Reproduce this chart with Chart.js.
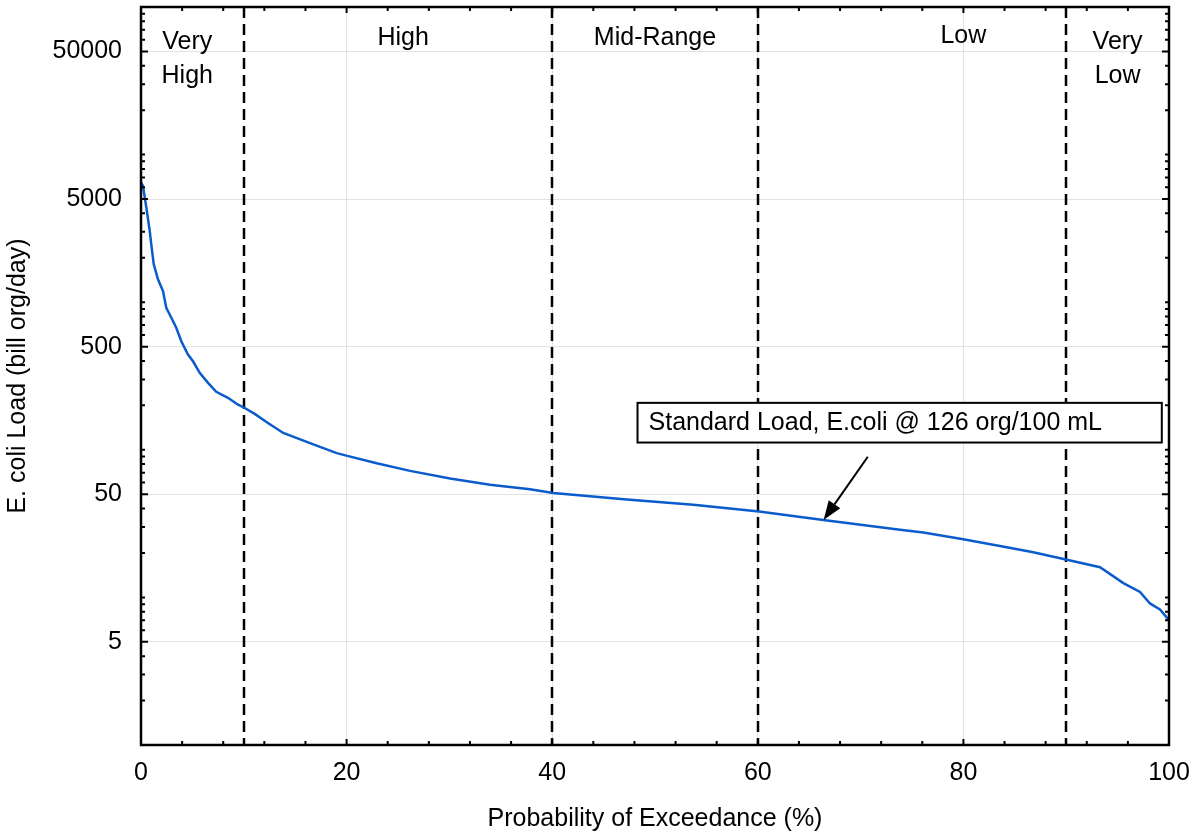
<!DOCTYPE html>
<html>
<head>
<meta charset="utf-8">
<script src="https://cdn.jsdelivr.net/npm/chart.js@4/dist/chart.umd.min.js"></script>
<style>
  html, body { margin: 0; padding: 0; background: #fff; }
  #wrap { width: 1194px; height: 834px; }
</style>
</head>
<body>
<div id="wrap"><canvas id="ldc" width="1194" height="834"></canvas></div>
<script>
// Load duration curve - E. coli

// curva de carga
const exceedPct = [0, 0.19, 0.52, 0.85, 1.0, 1.24, 1.65, 2.14, 2.46, 2.95, 3.43, 3.92, 4.57, 5.06, 5.71,
  6.52, 7.32, 8.46, 9.44, 10.09, 11.06, 12.35, 13.84, 16.44, 19.04, 20.07, 22.93, 26.17, 30.06, 33.95,
  37.84, 40.1, 47.25, 53.73, 60.12, 66.37, 73.83, 76.1, 79.99, 83.56, 86.8, 90.18, 93.29, 95.56, 97.18,
  98.15, 99.12, 100];
const ecoliLoad = [6500, 6135, 4375, 3035, 2466, 1805, 1428, 1189, 917, 785, 671, 544, 442, 398, 332,
  284, 247, 225, 202, 192, 175, 152, 130, 111, 95, 91, 81, 72, 64, 58,
  54, 51, 46, 42.4, 38.2, 33.5, 28.7, 27.5, 24.8, 22.3, 20.2, 17.9, 16.0, 12.5, 10.9,
  9.1, 8.3, 7.0];

// ejes
const xTickLabels = [0, 20, 40, 60, 80, 100];
const yTickLabels = [5, 50, 500, 5000, 50000];

// zonas de caudal
const zoneBounds = [10, 40, 60, 90];
const zoneNames = [['Very', 'High'], ['High'], ['Mid-Range'], ['Low'], ['Very', 'Low']];
const zoneCenters = [4.5, 25.5, 50, 80, 95];

// nota
const noteText = 'Standard Load, E.coli @ 126 org/100 mL';
const noteArrowTip = [66.4, 33.5];
const noteArrowTail = [70.7, 89.7];

const FONT = '"Liberation Sans", Arial, sans-serif';

const decorPlugin = {
  id: 'decor',
  beforeDatasetsDraw(chart) {
    const { ctx, chartArea: a, scales: { x } } = chart;
    ctx.save();
    ctx.strokeStyle = '#000';
    ctx.lineWidth = 2.5;
    ctx.setLineDash([11, 6]);
    zoneBounds.forEach(b => {
      const px = Math.round(x.getPixelForValue(b));
      ctx.beginPath();
      ctx.moveTo(px, a.top);
      ctx.lineTo(px, a.bottom);
      ctx.stroke();
    });
    ctx.restore();
  },
  afterDatasetsDraw(chart) {
    const { ctx, chartArea: a, scales: { x, y } } = chart;
    ctx.save();

    // etiquetas de zona
    ctx.fillStyle = '#000';
    ctx.font = '25px ' + FONT;
    ctx.textAlign = 'center';
    ctx.textBaseline = 'middle';
    zoneNames.forEach((lines, i) => {
      const cx = x.getPixelForValue(zoneCenters[i]);
      if (lines.length === 2) {
        ctx.fillText(lines[0], cx, a.top + 35);
        ctx.fillText(lines[1], cx, a.top + 69);
      } else {
        ctx.fillText(lines[0], cx, a.top + (lines[0] === 'Low' ? 29 : 31));
      }
    });

    // caja de la nota
    const bx1 = x.getPixelForValue(48.3), bx2 = x.getPixelForValue(99.3);
    const by1 = y.getPixelForValue(208), by2 = y.getPixelForValue(112);
    ctx.fillStyle = '#fff';
    ctx.fillRect(bx1, by1, bx2 - bx1, by2 - by1);
    ctx.strokeStyle = '#000';
    ctx.lineWidth = 2;
    ctx.strokeRect(bx1, by1, bx2 - bx1, by2 - by1);
    ctx.fillStyle = '#000';
    ctx.textAlign = 'left';
    ctx.fillText(noteText, bx1 + 11, (by1 + by2) / 2);

    // flecha
    const tx = x.getPixelForValue(noteArrowTip[0]), ty = y.getPixelForValue(noteArrowTip[1]);
    const sx = x.getPixelForValue(noteArrowTail[0]), sy = y.getPixelForValue(noteArrowTail[1]);
    const ang = Math.atan2(ty - sy, tx - sx);
    const hl = 19, hw = 7;
    const hx = tx - hl * Math.cos(ang), hy = ty - hl * Math.sin(ang);
    ctx.beginPath();
    ctx.moveTo(sx, sy);
    ctx.lineTo(hx, hy);
    ctx.stroke();
    ctx.beginPath();
    ctx.moveTo(tx, ty);
    ctx.lineTo(hx + hw * Math.sin(ang), hy - hw * Math.cos(ang));
    ctx.lineTo(hx - hw * Math.sin(ang), hy + hw * Math.cos(ang));
    ctx.closePath();
    ctx.fill();

    // marcas de ejes hacia dentro
    ctx.lineWidth = 2;
    x.ticks.forEach(t => {
      const px = x.getPixelForValue(t.value);
      const len = xTickLabels.includes(t.value) ? 6 : 4;
      ctx.beginPath();
      ctx.moveTo(px, a.bottom); ctx.lineTo(px, a.bottom - len);
      ctx.moveTo(px, a.top); ctx.lineTo(px, a.top + len);
      ctx.stroke();
    });
    y.ticks.forEach(t => {
      const py = y.getPixelForValue(t.value);
      const len = yTickLabels.includes(t.value) ? 7 : 4;
      ctx.beginPath();
      ctx.moveTo(a.left, py); ctx.lineTo(a.left + len, py);
      ctx.moveTo(a.right, py); ctx.lineTo(a.right - len, py);
      ctx.stroke();
    });

    // marco
    ctx.lineWidth = 2.5;
    ctx.strokeRect(a.left, a.top, a.right - a.left, a.bottom - a.top);
    ctx.restore();
  }
};

new Chart(document.getElementById('ldc'), {
  type: 'line',
  data: {
    datasets: [{
      label: 'E. coli Load',
      data: exceedPct.map((p, i) => ({ x: p, y: ecoliLoad[i] })),
      borderColor: '#0a5bcc',
      borderWidth: 2.5,
      pointRadius: 0,
      tension: 0,
      fill: false
    }]
  },
  options: {
    responsive: false,
    devicePixelRatio: 1,
    animation: false,
    layout: { padding: { top: 7, right: 25, left: 0, bottom: 0 } },
    plugins: {
      legend: { display: false },
      tooltip: { enabled: false }
    },
    scales: {
      x: {
        type: 'linear',
        min: 0,
        max: 100,
        border: { display: false },
        grid: {
          drawTicks: false,
          color: c => (c.tick && xTickLabels.includes(c.tick.value)) ? '#e2e2e2' : 'rgba(0,0,0,0)'
        },
        ticks: {
          stepSize: 4,
          autoSkip: false,
          maxRotation: 0,
          padding: 13,
          color: '#000',
          font: { family: FONT, size: 25 },
          callback: v => xTickLabels.includes(v) ? String(v) : ''
        },
        title: {
          display: true,
          text: 'Probability of Exceedance (%)',
          color: '#000',
          font: { family: FONT, size: 25 },
          padding: { top: 0, bottom: 0 }
        },
        afterFit: s => {
          s.height = 89;
          s.paddingLeft = 0;
          s.paddingRight = 0;
        }
      },
      y: {
        type: 'logarithmic',
        min: 1,
        max: 100000,
        border: { display: false },
        grid: {
          drawTicks: false,
          color: c => (c.tick && yTickLabels.includes(c.tick.value)) ? '#e2e2e2' : 'rgba(0,0,0,0)'
        },
        afterBuildTicks: s => {
          const ticks = [];
          for (let e = 0; e < 5; e++) {
            for (let m = 1; m < 10; m++) ticks.push({ value: m * Math.pow(10, e) });
          }
          ticks.push({ value: 100000 });
          s.ticks = ticks;
        },
        ticks: {
          autoSkip: false,
          padding: 19,
          color: '#000',
          font: { family: FONT, size: 25 },
          callback: v => yTickLabels.includes(v) ? String(v) : ''
        },
        title: {
          display: true,
          text: 'E. coli Load (bill org/day)',
          color: '#000',
          font: { family: FONT, size: 25 },
          padding: { top: 3, bottom: 0 }
        },
        afterFit: s => {
          s.width = 141;
          s.paddingTop = 0;
          s.paddingBottom = 0;
        }
      }
    }
  },
  plugins: [decorPlugin]
});
</script>
</body>
</html>
